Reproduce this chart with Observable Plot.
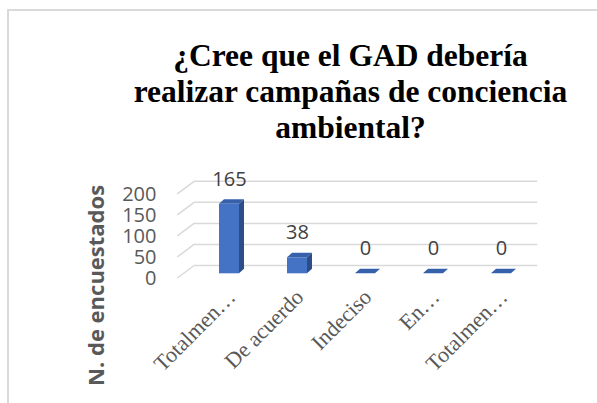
<!DOCTYPE html>
<html><head><meta charset="utf-8">
<script src="https://cdn.jsdelivr.net/npm/d3@7"></script>
<script src="https://cdn.jsdelivr.net/npm/@observablehq/plot@0.6"></script>
<style>
html,body{margin:0;padding:0;background:#fff;width:597px;height:403px;overflow:hidden;}
#frame{position:absolute;left:7px;top:9px;width:720px;height:440px;border:2px solid #dadada;box-sizing:border-box;}
#title{position:absolute;left:0;top:38px;width:701px;text-align:center;font-family:"Liberation Serif","Times New Roman",serif;font-weight:bold;font-size:31.5px;line-height:36px;color:#000;}
#chart{position:absolute;left:0;top:160px;}
</style></head><body>
<div id="frame"></div>
<div id="title">¿Cree que el GAD debería<br>realizar campañas de conciencia<br>ambiental?</div>
<div id="chart"></div>
<script>
const categories = ["Totalmente de acuerdo", "De acuerdo", "Indeciso", "En desacuerdo", "Totalmente en desacuerdo"];
const values = [165, 38, 0, 0, 0];
const tickLabels = ["Totalmen…", "De acuerdo", "Indeciso", "En…", "Totalmen…"];
const yTicks = [0, 50, 100, 150, 200];
const yTitle = "N. de encuestados";

const data = categories.map((c, i) => ({category: c, value: values[i]}));

const frontColor = "#4472C4", topColor = "#3760AA", sideColor = "#2C4D88", gridColor = "#d9d9d9";
const lift = -4.7, depthX = 5, depthY = -4.5, wallX = 17.5, wallY = -13;

function sideWall(index, scales, values, dimensions) {
  const y = scales.y;
  const xl = dimensions.marginLeft - 16.1;
  const g = d3.create("svg:g");
  g.selectAll("line").data(yTicks).join("line")
    .attr("x1", xl).attr("y1", d => y(d))
    .attr("x2", xl + wallX).attr("y2", d => y(d) + wallY)
    .attr("stroke", gridColor).attr("stroke-width", 1.5);
  return g.node();
}

function barFaces(index, scales) {
  const x = scales.x, y = scales.y;
  const bw = x.bandwidth ? x.bandwidth() : 20;
  const g = d3.create("svg:g");
  for (const d of data) {
    const x0 = x(d.category), x1 = x0 + bw;
    const yt = y(d.value) + lift, yb = y(0) + lift;
    g.append("path")
      .attr("d", `M${x0},${yt}L${x1},${yt}L${x1 + depthX},${yt + depthY}L${x0 + depthX},${yt + depthY}Z`)
      .attr("fill", topColor);
    g.append("path")
      .attr("d", `M${x1},${yt}L${x1 + depthX},${yt + depthY}L${x1 + depthX},${yb + depthY}L${x1},${yb}Z`)
      .attr("fill", sideColor);
  }
  return g.node();
}

const chart = Plot.plot({
  width: 597,
  height: 243,
  marginTop: 33.8,
  marginBottom: 125,
  marginLeft: 193.4,
  marginRight: 61.1,
  style: {background: "transparent", overflow: "visible", color: "#595959"},
  x: {type: "band", domain: categories, paddingInner: 0.712, paddingOuter: 0.356},
  y: {domain: [0, 200]},
  marks: [
    Plot.ruleY(yTicks, {stroke: gridColor, strokeWidth: 1.5, dy: wallY, insetLeft: 1.4, insetRight: -1.4}),
    sideWall,
    Plot.barY(data, {x: "category", y: "value", fill: frontColor, dy: lift}),
    barFaces,
    Plot.text(data, {x: "category", y: "value", text: d => String(d.value), dy: lift - 25, fontSize: 20, fontFamily: "Open Sans", fill: "#404040"}),
    Plot.axisY({ticks: yTicks, tickSize: 0, tickPadding: 37.4, fontSize: 20, fontFamily: "Open Sans", label: null}),
    Plot.axisX({tickRotate: -45, tickSize: 0, tickPadding: 15, dx: 2.4, fontSize: 22, fontFamily: "Liberation Serif", label: null,
      tickFormat: d => tickLabels[categories.indexOf(d)]}),
    Plot.text([yTitle], {frameAnchor: "left", textAnchor: "middle", rotate: -90, dx: -97.4, dy: 49, fontSize: 22, fontWeight: "bold", fontFamily: "Open Sans", fill: "#595959"})
  ]
});
document.getElementById("chart").appendChild(chart);
</script>
</body></html>
